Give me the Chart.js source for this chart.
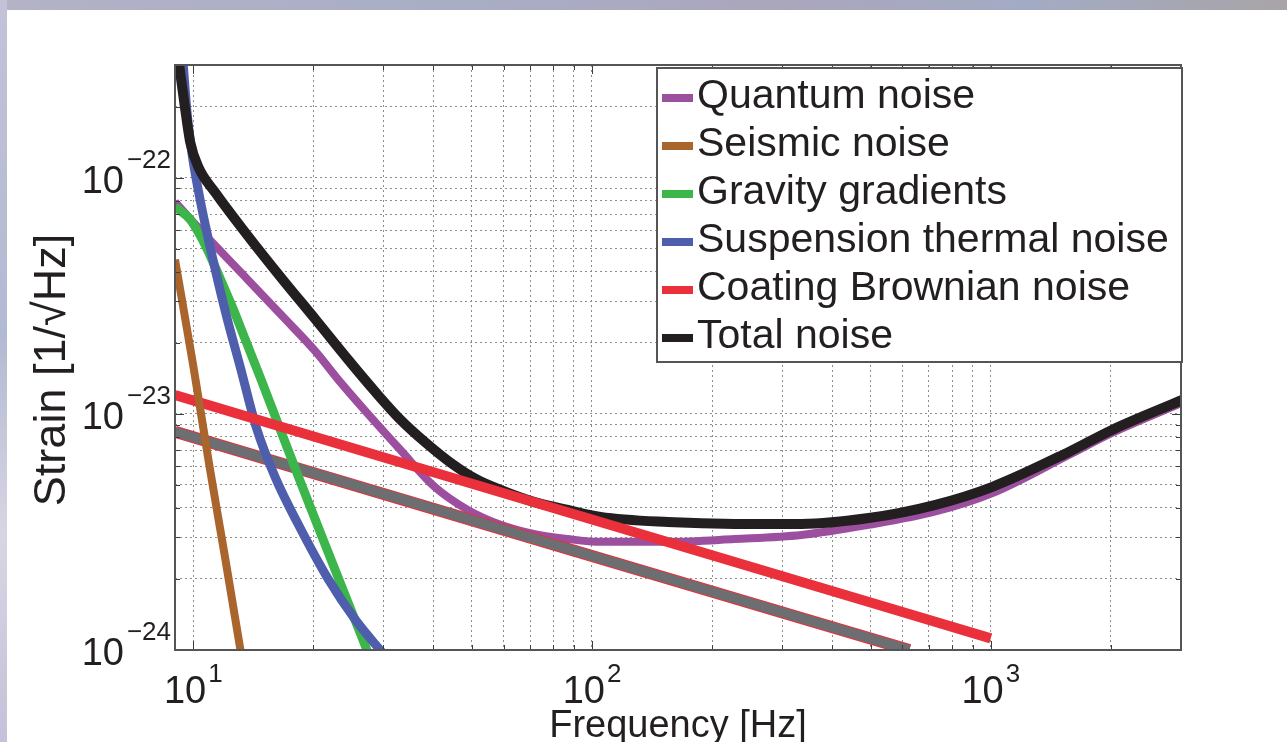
<!DOCTYPE html>
<html>
<head>
<meta charset="utf-8">
<title>Noise budget</title>
<script src="https://cdn.jsdelivr.net/npm/chart.js@4.4.1/dist/chart.umd.min.js"></script>
<style>
    html, body { margin: 0; padding: 0; background: #fff; overflow: hidden; }
    #page { position: relative; width: 1287px; height: 742px; background: #fff; }
    #topStrip {
        position: absolute; left: 0; top: 0; width: 1287px; height: 10px;
        background: linear-gradient(90deg, #b3b2c6, #a9aec6 35%, #aaa6bc 60%, #a3abc4 80%, #a8a4a7);
    }
    #leftStrip {
        position: absolute; left: 0; top: 0; width: 7px; height: 742px;
        background: linear-gradient(180deg, #c3c2d8, #b2bad1 45%, #d8d5e3 72%, #c4c1d9);
    }
    #chart { position: absolute; left: 0; top: 0; width: 1287px; height: 742px; }
</style>
</head>
<body>
<div id="page">
    <div id="topStrip"></div>
    <div id="leftStrip"></div>
    <canvas id="chart" width="1287" height="742"></canvas>
</div>
<script>
const FONT = '"Liberation Sans", Arial, sans-serif';
const INK = '#231f20';

// axes
const xMin = 9, xMax = 3000;
const yMin = 1e-24, yMax = 3e-22;
const xGridValues = [10, 20, 30, 40, 50, 60, 70, 80, 90,
    100, 200, 300, 400, 500, 600, 700, 800, 900,
    1000, 2000, 3000];
const yGridValues = [1e-24, 2e-24, 3e-24, 4e-24, 5e-24, 6e-24, 7e-24, 8e-24, 9e-24,
    1e-23, 2e-23, 3e-23, 4e-23, 5e-23, 6e-23, 7e-23, 8e-23, 9e-23,
    1e-22, 2e-22, 3e-22];
const xLabelValues = [10, 100, 1000];
const xLabelExponents = ['1', '2', '3'];
const yLabelValues = [1e-22, 1e-23, 1e-24];
const yLabelExponents = ['\u221222', '\u221223', '\u221224'];

const seriesNames = ['Quantum noise', 'Seismic noise', 'Gravity gradients',
    'Suspension thermal noise', 'Coating Brownian noise', 'Total noise'];
const seriesColors = ['#9d4f9f', '#a9652c', '#3cb54a', '#4f5eac', '#e9303b', '#231f20'];

// curves: frequency [Hz] / strain [1/sqrt(Hz)]
const quantumFreq = [9, 10.4, 13.7, 16.7, 20.3, 23.15, 27, 33.1, 40.1, 48.8, 59, 71.4, 87,
    105, 155, 228, 335, 494, 723, 1010, 1570, 2014, 3040];
const quantumStrain = [7.9e-23, 6.03e-23, 3.7e-23, 2.6e-23, 1.83e-23, 1.39e-23, 1.03e-23,
    7.03e-24, 4.95e-24, 3.92e-24, 3.39e-24, 3.1e-24, 2.95e-24, 2.87e-24, 2.87e-24, 2.95e-24,
    3.07e-24, 3.39e-24, 3.85e-24, 4.62e-24, 6.7e-24, 8.3e-24, 1.12e-23];

const seismicFreq = [9, 10, 11, 12, 13.2, 13.6];
const seismicStrain = [4.5e-23, 1.6e-23, 5.9e-24, 2.5e-24, 9.5e-25, 7e-25];

const gravityFreq = [9, 9.83, 10.41, 11.03, 11.69, 12.53, 13.51, 14.74, 16.54, 18.57, 20.85,
    23.41, 26.28, 27.52];
const gravityStrain = [7.54e-23, 6.64e-23, 5.68e-23, 4.67e-23, 3.73e-23, 2.84e-23, 2.06e-23,
    1.42e-23, 8.55e-24, 5.15e-24, 3.13e-24, 1.91e-24, 1.17e-24, 9.6e-25];

const suspensionFreq = [9.38, 9.44, 9.66, 9.94, 10.29, 10.78, 11.36, 12.1, 13.13, 14.4, 16.07,
    18.36, 21.71, 25.53, 30.02];
const suspensionStrain = [3.5e-22, 3.01e-22, 1.85e-22, 1.25e-22, 8.89e-23, 6.03e-23, 4.07e-23,
    2.62e-23, 1.57e-23, 8.73e-24, 5.36e-24, 3.39e-24, 2.02e-24, 1.34e-24, 9.6e-25];

const coatingFreq = [9, 100, 1000];
const coatingStrain = [1.2e-23, 3.57e-24, 1.12e-24];

const totalFreq = [9.15, 9.55, 9.83, 10.3, 11.36, 13.7, 16.7, 20.3, 24.5, 28.6, 33.1, 38.3, 44.3,
    51.1, 59, 71.4, 87, 105, 155, 228, 335, 494, 723, 1010, 1570, 2014, 3040];
const totalStrain = [3.3e-22, 1.94e-22, 1.41e-22, 1.11e-22, 8.64e-23, 5.68e-23, 3.73e-23,
    2.5e-23, 1.69e-23, 1.24e-23, 9.44e-24, 7.54e-24, 6.19e-24, 5.3e-24, 4.76e-24, 4.24e-24,
    3.92e-24, 3.66e-24, 3.48e-24, 3.42e-24, 3.42e-24, 3.62e-24, 4.11e-24, 4.91e-24, 6.9e-24,
    8.55e-24, 1.15e-23];

// unlabelled grey curve
const otherFreq = [9, 100, 625];
const otherStrain = [8.4e-24, 2.5e-24, 1.0e-24];

function points(freq, strain) {
    return freq.map((f, i) => ({ x: f, y: strain[i] }));
}

function series(label, freq, strain, color, width, order) {
    return {
        label: label,
        data: points(freq, strain),
        borderColor: color,
        borderWidth: width,
        order: order,
        pointRadius: 0,
        cubicInterpolationMode: 'monotone',
        borderJoinStyle: 'round',
        borderCapStyle: 'butt',
        clip: 0
    };
}

const axisDecor = {
    id: 'axisDecor',
    afterDatasetsDraw(chart) {
        const { ctx, chartArea: a, scales: { x, y } } = chart;
        ctx.save();
        ctx.strokeStyle = '#3c3c3c';
        ctx.lineWidth = 1;
        ctx.beginPath();
        xGridValues.forEach(v => {
            const px = Math.round(x.getPixelForValue(v)) + 0.5;
            const len = xLabelValues.includes(v) ? 9 : 5;
            ctx.moveTo(px, a.bottom); ctx.lineTo(px, a.bottom - len);
            ctx.moveTo(px, a.top); ctx.lineTo(px, a.top + len);
        });
        yGridValues.forEach(v => {
            const py = Math.round(y.getPixelForValue(v)) + 0.5;
            const len = yLabelValues.includes(v) ? 9 : 5;
            ctx.moveTo(a.left, py); ctx.lineTo(a.left + len, py);
            ctx.moveTo(a.right, py); ctx.lineTo(a.right - len, py);
        });
        ctx.stroke();
        ctx.lineWidth = 2;
        ctx.strokeStyle = '#555';
        ctx.strokeRect(a.left, a.top, a.right - a.left, a.bottom - a.top);
        ctx.restore();
    },
    afterDraw(chart) {
        const { ctx, chartArea: a, scales: { x, y } } = chart;
        ctx.save();
        ctx.fillStyle = INK;
        ctx.textBaseline = 'alphabetic';
        ctx.textAlign = 'left';

        // x tick labels 10^n
        xLabelValues.forEach((v, i) => {
            const px = x.getPixelForValue(v);
            ctx.font = '38px ' + FONT;
            const w10 = ctx.measureText('10').width;
            ctx.font = '26px ' + FONT;
            const wExp = ctx.measureText(xLabelExponents[i]).width;
            const start = px - (w10 + 2 + wExp) / 2;
            ctx.font = '38px ' + FONT;
            ctx.fillText('10', start, 703);
            ctx.font = '26px ' + FONT;
            ctx.fillText(xLabelExponents[i], start + w10 + 2, 682);
        });

        // y tick labels 10^-n
        yLabelValues.forEach((v, i) => {
            const py = y.getPixelForValue(v);
            const right = a.left - 4;
            ctx.font = '26px ' + FONT;
            const wExp = ctx.measureText(yLabelExponents[i]).width;
            ctx.fillText(yLabelExponents[i], right - wExp, py - 10);
            ctx.font = '38px ' + FONT;
            const w10 = ctx.measureText('10').width;
            ctx.fillText('10', right - wExp - 3 - w10, py + 15);
        });

        // axis titles
        ctx.textAlign = 'center';
        ctx.font = '38px ' + FONT;
        ctx.fillText('Frequency [Hz]', (a.left + a.right) / 2, 737);
        ctx.save();
        ctx.translate(65, 370);
        ctx.rotate(-Math.PI / 2);
        ctx.font = '45px ' + FONT;
        ctx.fillText('Strain [1/\u221AHz]', 0, 0);
        ctx.restore();

        // legend box in the upper right of the plot
        const box = { left: a.right - 524, top: a.top + 3, right: a.right + 1, bottom: a.top + 297 };
        ctx.fillStyle = '#fff';
        ctx.fillRect(box.left, box.top, box.right - box.left, box.bottom - box.top);
        ctx.strokeStyle = '#555';
        ctx.lineWidth = 2;
        ctx.strokeRect(box.left, box.top, box.right - box.left, box.bottom - box.top);

        const items = chart.data.datasets.filter(d => seriesNames.includes(d.label));
        ctx.textAlign = 'left';
        ctx.textBaseline = 'middle';
        ctx.font = '41px ' + FONT;
        items.forEach((d, i) => {
            const cy = box.top + 29 + i * 48;
            ctx.strokeStyle = d.borderColor;
            ctx.lineWidth = 8;
            ctx.lineCap = 'butt';
            ctx.beginPath();
            ctx.moveTo(box.left + 5, cy + 1);
            ctx.lineTo(box.left + 36, cy + 1);
            ctx.stroke();
            ctx.fillStyle = INK;
            ctx.fillText(d.label, box.left + 40, cy);
        });
        ctx.restore();
    }
};

document.addEventListener("DOMContentLoaded", () => {
    const canvas = document.getElementById('chart');

    const datasets = [
        series(seriesNames[0], quantumFreq, quantumStrain, seriesColors[0], 8, 8),
        series(seriesNames[1], seismicFreq, seismicStrain, seriesColors[1], 8, 0),
        series(seriesNames[2], gravityFreq, gravityStrain, seriesColors[2], 9, 5),
        series(seriesNames[3], suspensionFreq, suspensionStrain, seriesColors[3], 9, 4),
        series(seriesNames[4], coatingFreq, coatingStrain, seriesColors[4], 10, 1),
        series(seriesNames[5], totalFreq, totalStrain, seriesColors[5], 10, 2),
        series('', otherFreq, otherStrain, '#6d6e71', 10, 6),
        series('', otherFreq, otherStrain, '#e9303b', 12, 7)
    ];

    new Chart(canvas, {
        type: 'line',
        data: { datasets: datasets },
        options: {
            responsive: false,
            animation: false,
            layout: { padding: { left: 175, right: 106, top: 65, bottom: 92 } },
            plugins: {
                legend: { display: false },
                tooltip: { enabled: false }
            },
            scales: {
                x: {
                    type: 'logarithmic',
                    min: xMin,
                    max: xMax,
                    afterBuildTicks: axis => { axis.ticks = xGridValues.map(v => ({ value: v })); },
                    ticks: { display: false },
                    grid: { drawTicks: false, color: '#8c8c8c', lineWidth: 1 },
                    border: { display: false, dash: [2, 3] },
                    title: { display: false }
                },
                y: {
                    type: 'logarithmic',
                    min: yMin,
                    max: yMax,
                    afterBuildTicks: axis => { axis.ticks = yGridValues.map(v => ({ value: v })); },
                    ticks: { display: false },
                    grid: { drawTicks: false, color: '#8c8c8c', lineWidth: 1 },
                    border: { display: false, dash: [2, 3] },
                    title: { display: false }
                }
            }
        },
        plugins: [axisDecor]
    });
});
</script>
</body>
</html>
